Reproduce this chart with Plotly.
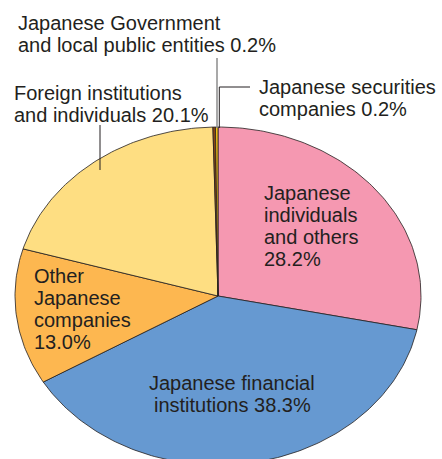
import numpy as np
import plotly.graph_objects as go

# Data (clockwise from 12 o'clock)
categories = [
    "Japanese individuals and others",
    "Japanese financial institutions",
    "Other Japanese companies",
    "Foreign institutions and individuals",
    "Japanese Government and local public entities",
    "Japanese securities companies",
]
shares = [28.2, 38.3, 13.0, 20.1, 0.2, 0.2]
colors = ["#F598B1", "#6699D1", "#FDB750", "#FEDE82", "#8A4414", "#F3C21A"]

# Ellipse geometry (in pixel-like axis units)
CX, CY, RX, RY = 218, 296, 203, 169

fig = go.Figure()
total = sum(shares)
cum = 0.0
for cat, v, c in zip(categories, shares, colors):
    f0 = cum / total
    f1 = (cum + v) / total
    cum += v
    n = max(4, int(360 * (f1 - f0)))
    th = np.linspace(2 * np.pi * f0, 2 * np.pi * f1, n + 1)
    xs = np.concatenate([[CX], CX + RX * np.sin(th), [CX]])
    ys = np.concatenate([[CY], CY - RY * np.cos(th), [CY]])
    fig.add_trace(go.Scatter(
        x=xs, y=ys, mode="lines", fill="toself", fillcolor=c,
        line=dict(color="#231f20", width=0.8), name=cat,
        hoverinfo="name", showlegend=False,
    ))

FONT = dict(family="Liberation Sans, Arial, sans-serif", size=20, color="#231f20")
LINE = 22

labels = [
    (["Japanese Government", "and local public entities 0.2%"], 16, 23, "left"),
    (["Foreign institutions", "and individuals 20.1%"], 12, 93, "left"),
    (["Japanese securities", "companies 0.2%"], 257, 87, "left"),
    (["Japanese", "individuals", "and others", "28.2%"], 262, 193, "left"),
    (["Other", "Japanese", "companies", "13.0%"], 32, 276, "left"),
    (["Japanese financial", "institutions 38.3%"], 232, 383, "center"),
]
for lines, x, y0, al in labels:
    for i, line in enumerate(lines):
        fig.add_annotation(
            x=x, y=y0 + i * LINE, xref="x", yref="y", text=line, showarrow=False,
            xanchor="left" if al == "left" else "center", yanchor="middle",
            align=al, font=FONT,
        )

# Leader lines
fig.add_shape(type="line", x0=100, y0=125, x1=100, y1=170, xref="x", yref="y",
              line=dict(color="#231f20", width=1))
fig.add_shape(type="line", x0=217, y0=58, x1=217, y1=128, xref="x", yref="y",
              line=dict(color="#8c8c8c", width=1.5))
fig.add_shape(type="path", path="M 250 87 L 219.3 87 L 219.3 128", xref="x", yref="y",
              line=dict(color="#231f20", width=1))

fig.update_xaxes(range=[0, 442], visible=False, fixedrange=True)
fig.update_yaxes(range=[459, 0], visible=False, fixedrange=True)
fig.update_layout(
    width=442, height=459, margin=dict(l=0, r=0, t=0, b=0),
    plot_bgcolor="white", paper_bgcolor="white", showlegend=False,
)
fig.write_html("out.html", config={"displayModeBar": False},
               post_script="document.body.style.margin='0';")
